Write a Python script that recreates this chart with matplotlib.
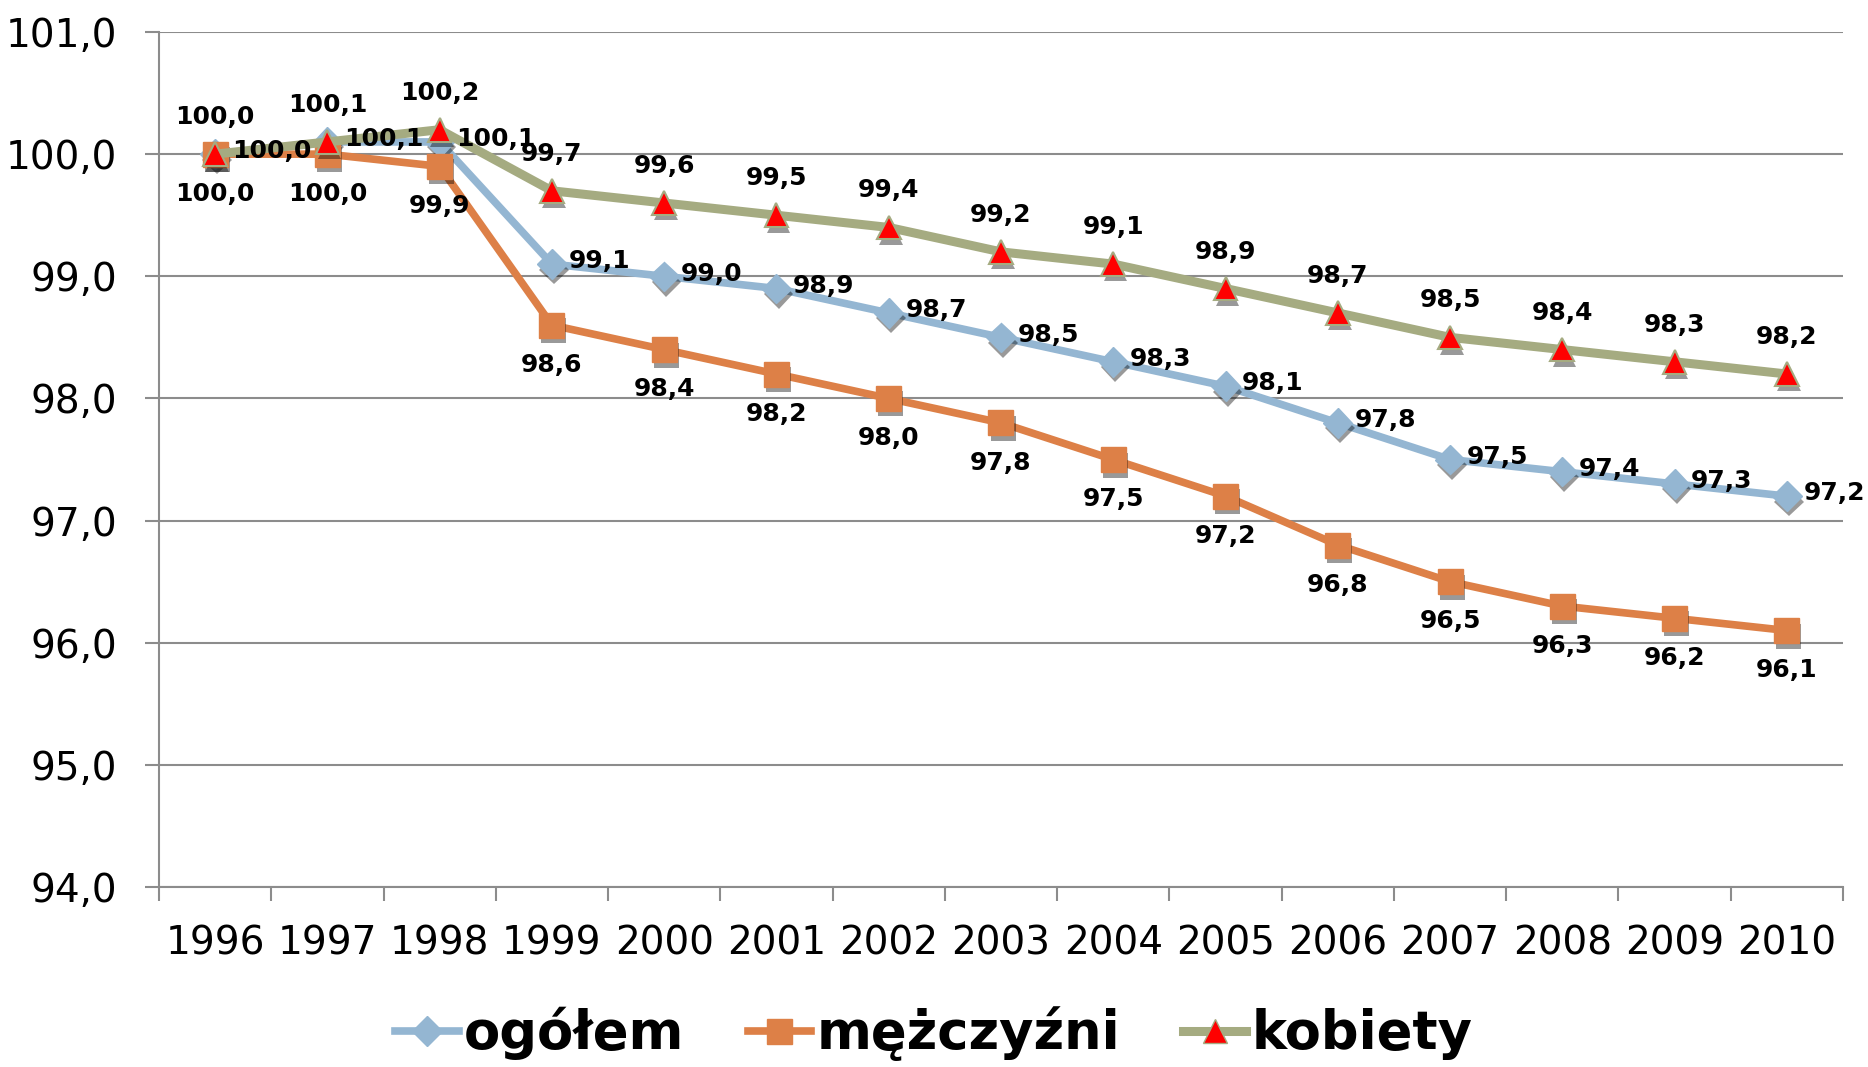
import matplotlib
matplotlib.use('Agg')
import matplotlib.pyplot as plt
import matplotlib.patheffects as pe
from matplotlib.ticker import FixedLocator, FuncFormatter

# data
years = ['1996', '1997', '1998', '1999', '2000', '2001', '2002', '2003',
         '2004', '2005', '2006', '2007', '2008', '2009', '2010']
ogolem = [100.0, 100.1, 100.1, 99.1, 99.0, 98.9, 98.7, 98.5, 98.3, 98.1,
          97.8, 97.5, 97.4, 97.3, 97.2]
mezczyzni = [100.0, 100.0, 99.9, 98.6, 98.4, 98.2, 98.0, 97.8, 97.5, 97.2,
             96.8, 96.5, 96.3, 96.2, 96.1]
kobiety = [100.0, 100.1, 100.2, 99.7, 99.6, 99.5, 99.4, 99.2, 99.1, 98.9,
           98.7, 98.5, 98.4, 98.3, 98.2]
series_names = ['ogółem', 'mężczyźni', 'kobiety']

blue = '#94B6D2'
orange = '#DD8047'
olive = '#A5AB81'
grid_col = '#8C8C8C'

plt.rcParams['font.family'] = ['DejaVu Sans']

fig = plt.figure(figsize=(18.68, 10.67), dpi=100)
ax = fig.add_axes([0.0851, 0.1687, 0.9015, 0.8013])

x = list(range(len(years)))
shadow = [pe.SimplePatchShadow(offset=(1.5, -4), shadow_rgbFace='black', alpha=0.4), pe.Normal()]


def fmt(v):
    return f'{v:.1f}'.replace('.', ',')


# ogółem
ax.plot(x, ogolem, color=blue, lw=5.5, zorder=3, solid_joinstyle='round')
ax.plot(x, ogolem, ls='none', marker='D', ms=15, color=blue, zorder=4,
        path_effects=shadow)
# mężczyźni
ax.plot(x, mezczyzni, color=orange, lw=5.5, zorder=5, solid_joinstyle='round')
ax.plot(x, mezczyzni, ls='none', marker='s', ms=18, color=orange, zorder=6,
        path_effects=shadow)
# kobiety
ax.plot(x, kobiety, color=olive, lw=6.5, zorder=7, solid_joinstyle='round')
ax.plot(x, kobiety, ls='none', marker='^', ms=17, markerfacecolor='red',
        markeredgecolor=olive, markeredgewidth=1.5, zorder=8, path_effects=shadow)

# data labels
lab_kw = dict(fontsize=18, fontweight='bold', color='black', zorder=10)
for i in x:
    ax.annotate(fmt(kobiety[i]), (i, kobiety[i]), xytext=(0, 18),
                textcoords='offset points', ha='center', va='bottom', **lab_kw)
    ax.annotate(fmt(mezczyzni[i]), (i, mezczyzni[i]), xytext=(0, -20),
                textcoords='offset points', ha='center', va='top', **lab_kw)
    ax.annotate(fmt(ogolem[i]), (i, ogolem[i]), xytext=(12, 2),
                textcoords='offset points', ha='left', va='center', **lab_kw)

ax.set_xlim(-0.5, len(years) - 0.5)
ax.set_ylim(94, 101)
ax.set_xticks(x)
ax.set_xticklabels(years)
ax.xaxis.set_minor_locator(FixedLocator([i - 0.5 for i in range(len(years) + 1)]))
ax.set_yticks(range(94, 102))
ax.yaxis.set_major_formatter(FuncFormatter(lambda v, p: fmt(v)))

ax.tick_params(axis='x', which='major', length=0, pad=27, labelsize=28)
ax.tick_params(axis='x', which='minor', length=10, width=1.5, color=grid_col, direction='out')
ax.tick_params(axis='y', length=10, width=1.5, color=grid_col, pad=20, labelsize=28)

ax.grid(axis='y', color=grid_col, lw=1.5, zorder=0)
ax.set_axisbelow(True)
for s in ['top', 'right']:
    ax.spines[s].set_visible(False)
for s in ['left', 'bottom']:
    ax.spines[s].set_color(grid_col)
    ax.spines[s].set_linewidth(1.5)

# legend handles
h1 = plt.Line2D([], [], color=blue, lw=5.5, marker='D', ms=15)
h2 = plt.Line2D([], [], color=orange, lw=5.5, marker='s', ms=18)
h3 = plt.Line2D([], [], color=olive, lw=6.5, marker='^', ms=17,
                markerfacecolor='red', markeredgecolor=olive)
fig.legend([h1, h2, h3], series_names, loc='center', bbox_to_anchor=(0.5, 0.031),
           ncol=3, frameon=False, handlelength=1.2, handletextpad=0.1,
           columnspacing=1.2, prop={'size': 38, 'weight': 'bold'})

fig.savefig('out.png', dpi=100)
